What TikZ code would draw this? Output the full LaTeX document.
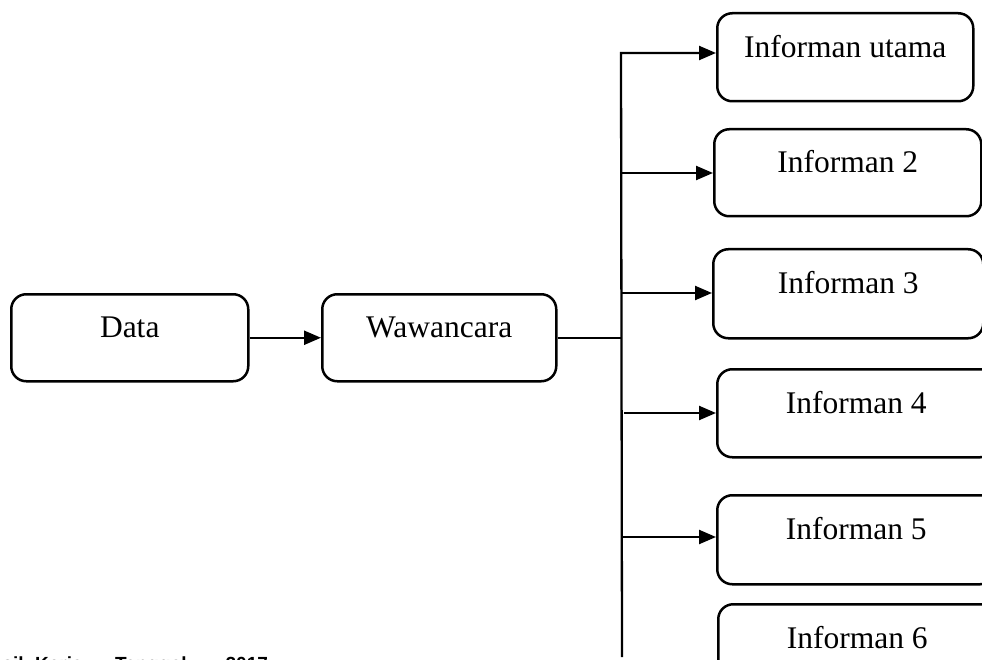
\documentclass[tikz,border=0pt]{standalone}
\usepackage{fontspec}
\setmainfont{Liberation Serif}
\newfontfamily\srcfont{Liberation Sans}
\usetikzlibrary{arrows.meta}
\begin{document}
\begin{tikzpicture}[x=1pt,y=-1pt,
  box/.style={draw, line width=2.5pt, rounded corners=15pt, inner sep=0pt,
    text height=12pt, text depth=12pt, anchor=north west,
    font=\fontsize{31.5}{36}\selectfont},
  ln/.style={line width=2.3pt},
  arr/.style={ln, -{Triangle[length=17pt,width=14pt]}}]
\useasboundingbox (0,0) rectangle (982,660);

\node[box, minimum width=237pt, minimum height=87pt] (d) at (10,293) {Data};
\node[box, minimum width=234pt, minimum height=87pt] (w) at (321,293) {Wawancara};

\node[box, minimum width=256pt, minimum height=88pt] (b1) at (716,12) {Informan utama};
\node[box, minimum width=267pt, minimum height=87pt] (b2) at (713,128) {Informan 2};
\node[box, minimum width=270pt, minimum height=89pt] (b3) at (712,248) {Informan 3};
\node[box, minimum width=278pt, minimum height=88pt] (b4) at (716,368) {Informan 4};
\node[box, minimum width=278pt, minimum height=89pt] (b5) at (716,494) {Informan 5};
\node[box, minimum width=278pt, minimum height=88pt] (b6) at (717,603) {Informan 6};

\coordinate (tt) at (621,53);
\coordinate (tb) at (622,657);
\coordinate (a2) at (621,173);
\coordinate (a3) at (621,293);
\coordinate (a4) at (624,413);
\coordinate (a5) at (623,537);

\draw[arr] (d.east) -- (w.west);
\draw[ln] (w.east) -- (w.east -| tt);
\draw[arr] (tb) -- (tt) -- (tt -| b1.west);
\draw[arr] (a2) -- (a2 -| b2.west);
\draw[arr] (a3) -- (a3 -| b3.west);
\draw[arr] (a4) -- (a4 -| b4.west);
\draw[arr] (a5) -- (a5 -| b5.west);

\node[anchor=base west, inner sep=0pt, font=\srcfont\bfseries\fontsize{19}{22}\selectfont]
  (src) at (-22,670) {Hasil\hspace{11.6pt}Kerja\hspace{32.5pt}Tanggal\hspace{39pt}2017};
\end{tikzpicture}
\end{document}
